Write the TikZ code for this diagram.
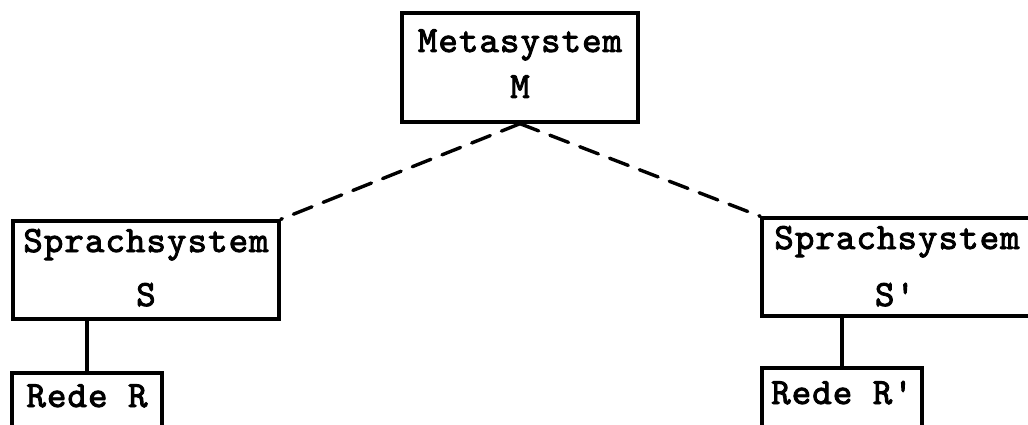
\documentclass[tikz,border=0pt]{standalone}
\usepackage{fontspec}
\newfontfamily\typefont[LetterSpace=3,FakeBold=2.5]{lmmono10-regular.otf}
\begin{document}
\begin{tikzpicture}[x=1pt,y=-1pt,
  box/.style={draw,line width=3.4pt,rectangle,inner sep=0pt,anchor=center},
  lbl/.style={font=\typefont\fontsize{37}{37}\selectfont,inner sep=0pt,anchor=base},
  link/.style={line width=3.6pt},
  dash link/.style={line width=3.4pt,dash pattern=on 20pt off 12pt,line cap=round}]
\useasboundingbox (0,0) rectangle (1028,425);
% boxes
\node[box,minimum width=236pt,minimum height=109pt] (M) at (520,67.5) {};
\node[box,minimum width=266pt,minimum height=98pt] (S) at (146,270) {};
\node[box,minimum width=270pt,minimum height=98pt] (S2) at (897,267) {};
\node[box,minimum width=150pt,minimum height=80pt] (R) at (87,413) {};
\node[box,minimum width=160pt,minimum height=80pt] (R2) at (842,408) {};
% texts
\node[lbl] (Mt1) at (520,52) {Metasystem};
\node[lbl] (Mt2) at (520,98) {M};
\node[lbl] (St1) at (146,252) {Sprachsystem};
\node[lbl] (St2) at (146,306) {S};
\node[lbl] (S2t1) at (897,249) {Sprachsystem};
\node[lbl] (S2t2) at (895,306) {S'};
\node[lbl] (Rt) at (87,407) {Rede R};
\node[lbl] (R2t) at (842,404) {Rede R'};
% connectors
\draw[dash link] (M.south) -- (S.north east);
\draw[dash link] (M.south) -- (S2.north west);
\draw[link] (S.south -| R.north) -- (R.north);
\draw[link] (S2.south -| R2.north) -- (R2.north);
\end{tikzpicture}
\end{document}
